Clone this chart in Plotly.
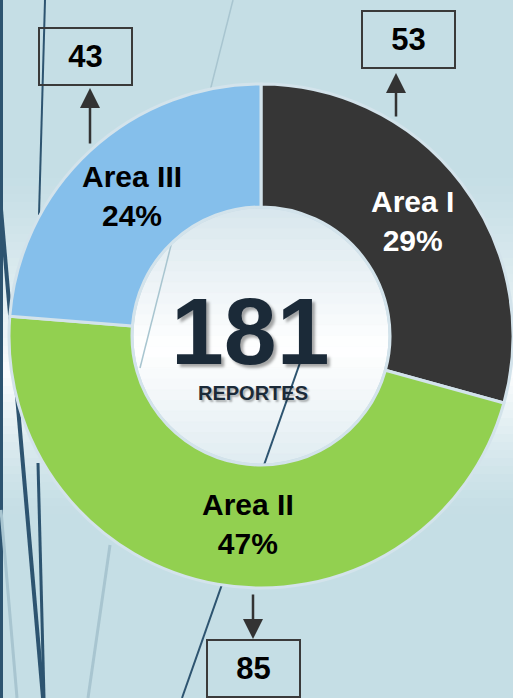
import math
import plotly.graph_objects as go

# ── Data ────────────────────────────────────────────────────
areas = ["Area I", "Area II", "Area III"]
reportes = [53, 85, 43]
colores = ["#363636", "#92D050", "#85BFEB"]
color_texto = ["white", "black", "black"]
total_label = "REPORTES"

W, H = 513, 698
CX, CY, R_OUT, R_IN = 261, 336, 252, 129
FONT = "Liberation Sans, Arial, sans-serif"


def px(x):
    return x / W


def py(y):
    return 1 - y / H


def mix(c1, c2, t):
    a = [int(c1[i:i + 2], 16) for i in (1, 3, 5)]
    b = [int(c2[i:i + 2], 16) for i in (1, 3, 5)]
    return "#" + "".join(f"{round(a[k] + (b[k] - a[k]) * t):02x}" for k in range(3))


shapes = []

# ── Background (slide-style horizontal gradient band) ──────
BASE, LIGHT = "#C5DEE5", "#FAFCFD"
shapes.append(dict(type="rect", xref="paper", yref="paper", x0=0, x1=1, y0=0, y1=1,
                   fillcolor=BASE, line_width=0, layer="below"))
band_top, band_mid, band_bot = 170, 375, 515
step = 8
for y in range(band_top, band_bot, step):
    yc = y + step / 2
    t = (yc - band_top) / (band_mid - band_top) if yc < band_mid else (band_bot - yc) / (band_bot - band_mid)
    shapes.append(dict(type="rect", xref="paper", yref="paper", x0=0, x1=1,
                       y0=py(y + step), y1=py(y), fillcolor=mix(BASE, LIGHT, max(0, t) ** 1.3),
                       line_width=0, layer="below"))

# ── Donut hole fill (light gradient clipped to circle) ─────
HOLE_TOP, HOLE_MID, HOLE_BOT = "#D8E6ED", "#FFFFFF", "#E0ECF1"
n = 24
for i in range(n):
    y0 = CY - R_IN + 2 * R_IN * i / n
    y1 = CY - R_IN + 2 * R_IN * (i + 1) / n
    pts_l, pts_r = [], []
    for k in range(7):
        yy = y0 + (y1 - y0) * k / 6
        dx = math.sqrt(max(R_IN ** 2 - (yy - CY) ** 2, 0))
        pts_r.append((CX + dx, yy))
        pts_l.append((CX - dx, yy))
    pts = pts_r + pts_l[::-1]
    path = "M " + " L ".join(f"{px(a):.5f},{py(b):.5f}" for a, b in pts) + " Z"
    t = (i + 0.5) / n
    col = mix(HOLE_TOP, HOLE_MID, t / 0.55) if t < 0.55 else mix(HOLE_MID, HOLE_BOT, (t - 0.55) / 0.45)
    shapes.append(dict(type="path", xref="paper", yref="paper", path=path,
                       fillcolor=col, line=dict(color=col, width=0.6), layer="below"))
shapes.append(dict(type="circle", xref="paper", yref="paper",
                   x0=px(CX - R_IN), x1=px(CX + R_IN), y0=py(CY + R_IN), y1=py(CY - R_IN),
                   line=dict(color="#C9DCE6", width=3), layer="below"))

# ── Decorative slide lines ─────────────────────────────────
DARK, PALE = "#2D5470", "#A8C5D0"
deco = [
    ((1.5, 0), (1.5, 698), DARK, 3),
    ((45, 0), (39, 215), DARK, 2),
    ((38, 463), (44, 698), DARK, 3),
    ((-17, 0), (43, 698), DARK, 4),
    ((308, 340), (182, 698), DARK, 2),
    ((233, 0), (140, 368), PALE, 1.5),
    ((110, 545), (88, 698), PALE, 3),
    ((1, 510), (17, 698), PALE, 3),
]
for (x0, y0), (x1, y1), c, w in deco:
    shapes.append(dict(type="line", xref="paper", yref="paper",
                       x0=px(x0), y0=py(y0), x1=px(x1), y1=py(y1),
                       line=dict(color=c, width=w), layer="below"))

# ── Donut ──────────────────────────────────────────────────
fig = go.Figure(go.Pie(
    labels=areas, values=reportes, sort=False, direction="clockwise", rotation=0,
    hole=R_IN / R_OUT,
    marker=dict(colors=colores, line=dict(color="#D3E3EB", width=3)),
    textinfo="none",
    domain=dict(x=[px(CX - R_OUT), px(CX + R_OUT)], y=[py(CY + R_OUT), py(CY - R_OUT)]),
    showlegend=False,
))

annotations = []
centred = dict(xref="paper", yref="paper", xanchor="center", yanchor="middle")

# slice labels, placed mid-ring on each slice's bisector
total = sum(reportes)
nudge = {"Area II": 20}
acc = 0
for name, val, tc in zip(areas, reportes, color_texto):
    ang = math.radians((acc + val / 2) / total * 360)
    acc += val
    r_mid = (R_IN + R_OUT) / 2
    lx = CX + r_mid * math.sin(ang) + nudge.get(name, 0)
    ly = CY - r_mid * math.cos(ang)
    annotations.append(dict(
        text=f"<b>{name}<br>{round(val / total * 100)}%</b>", x=px(lx), y=py(ly),
        showarrow=False, font=dict(family=FONT, size=30, color=tc), **centred,
    ))

# ── Centre total ───────────────────────────────────────────
annotations += [
    dict(text=f"<b>{total}</b>", x=px(250), y=py(331), showarrow=False,
         font=dict(family=FONT, size=95, color="#1B2A38",
                   shadow="3px 3px 3px rgba(0,0,0,0.35)"), **centred),
    dict(text=f"<b>{total_label}</b>", x=px(253), y=py(393), showarrow=False,
         font=dict(family=FONT, size=20, color="#1B2A38",
                   shadow="2px 2px 2px rgba(0,0,0,0.3)"), **centred),
]

# ── Value boxes with arrows ────────────────────────────────
# (box centre, arrow tail, arrow head) in pixels
callouts = [
    ((408.5, 39.5), (396, 118), (396, 73)),
    ((253, 668.5), (253, 593), (253, 639)),
    ((85.5, 56.5), (90, 145), (90, 88)),
]
for val, ((bx, by), (tx, ty), (hx, hy)) in zip(reportes, callouts):
    annotations.append(dict(
        text=f"<b>{val}</b>", x=px(bx), y=py(by), showarrow=False,
        width=91, height=55, borderwidth=2, bordercolor="#3A3A3A", borderpad=0,
        font=dict(family=FONT, size=31, color="black"), **centred,
    ))
    annotations.append(dict(
        text="", x=px(hx), y=py(hy), xref="paper", yref="paper",
        showarrow=True, ax=tx - hx, ay=ty - hy, arrowhead=2, arrowsize=1.6,
        arrowwidth=2.5, arrowcolor="#333333",
    ))

fig.update_layout(
    width=W, height=H, margin=dict(l=0, r=0, t=0, b=0),
    paper_bgcolor=BASE, plot_bgcolor=BASE,
    shapes=shapes, annotations=annotations,
)

fig.write_html("out.html", config={"displayModeBar": False},
               post_script="document.body.style.margin='0';")
